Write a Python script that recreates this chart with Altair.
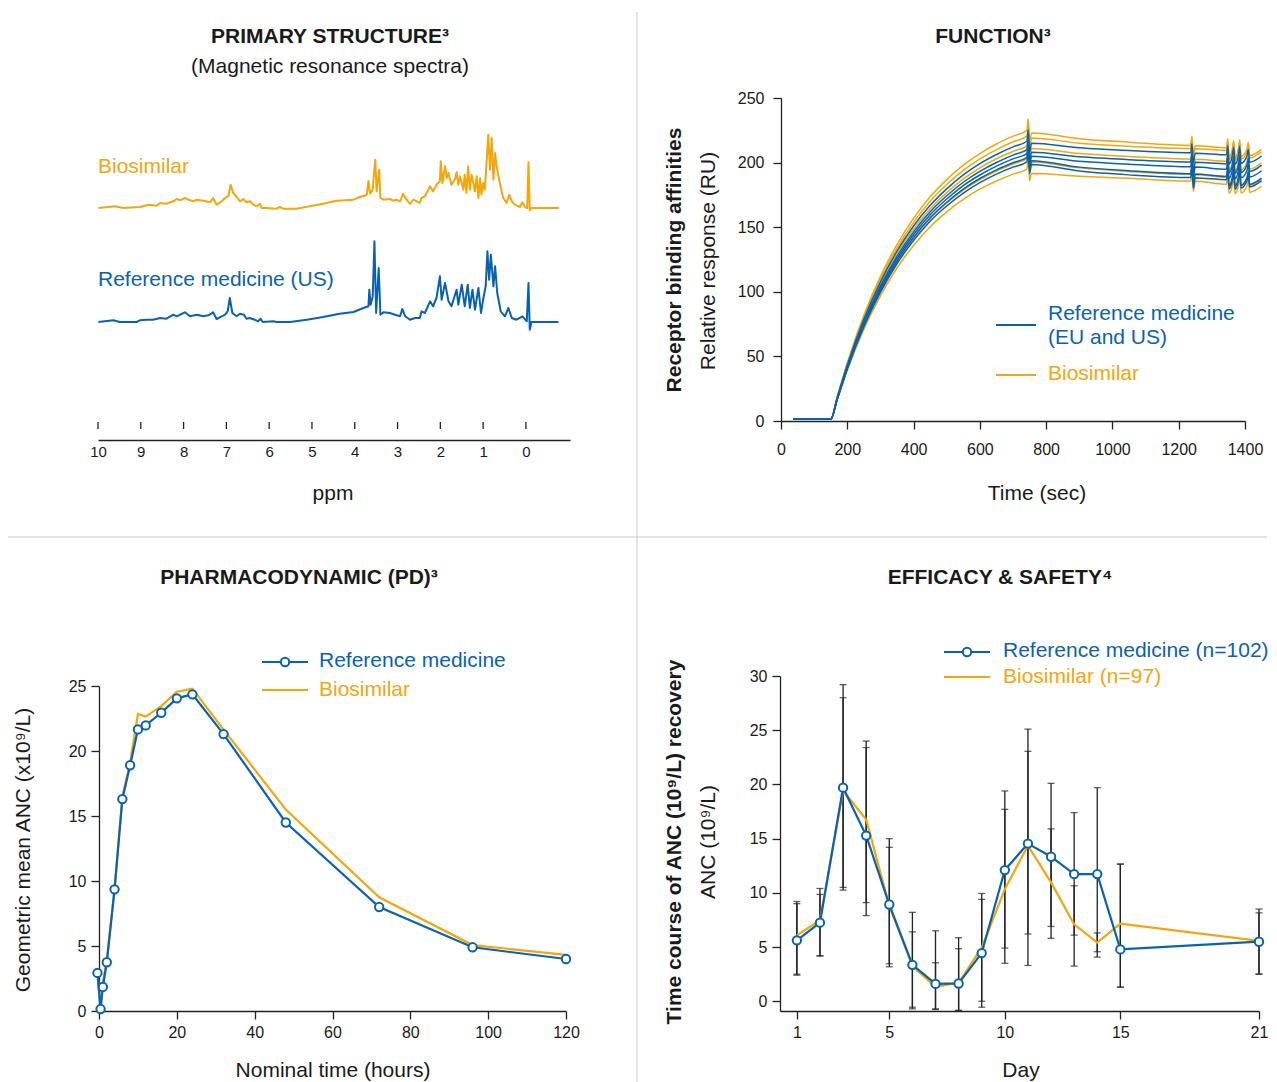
import altair as alt
import pandas as pd

# ---------------- DATA ----------------
# Primary structure: NMR spectra (ppm, relative intensity)
nmr_bios_ppm = [9.99, 9.60, 9.41, 9.02, 8.82, 8.63, 8.55, 8.40, 8.24, 8.16, 8.08, 7.97, 7.89, 7.77, 7.69, 7.54,
                7.38, 7.31, 7.23, 7.11, 7.03, 6.95, 6.90, 6.84, 6.76, 6.68, 6.60, 6.53, 6.45, 6.37, 6.29, 6.21,
                6.18, 6.06, 5.83, 5.75, 5.67, 5.36, 5.05, 4.74, 4.42, 4.03, 3.88, 3.72, 3.68, 3.64, 3.58, 3.55,
                3.52, 3.49, 3.43, 3.40, 3.33, 3.18, 3.10, 3.02, 2.94, 2.87, 2.79, 2.71, 2.63, 2.55, 2.48, 2.44,
                2.36, 2.24, 2.17, 2.09, 2.01, 1.99, 1.95, 1.89, 1.85, 1.81, 1.74, 1.66, 1.62, 1.58, 1.54, 1.46,
                1.43, 1.39, 1.35, 1.31, 1.27, 1.19, 1.15, 1.11, 1.07, 1.04, 1.00, 0.96, 0.92, 0.88, 0.84, 0.80,
                0.76, 0.72, 0.69, 0.61, 0.53, 0.45, 0.39, 0.33, 0.26, 0.14, 0.08, 0.02, -0.03, -0.06, -0.09,
                -0.13, -0.77]
nmr_bios_int = [0, 1.7, 0, 1.0, 3.3, 2.3, 5, 4.3, 6.7, 9, 7.7, 10, 8.3, 6.7, 8.3, 7.3,
                5.7, 10, 3.3, 6.7, 10, 12.3, 23.3, 15, 11, 6.7, 9, 5.7, 6.7, 3.3, 1.7, 4.3,
                0, 0, -0.7, 1, -0.7, -0.7, 1.7, 4.3, 7.3, 8.3, 11, 13, 27, 14.3, 18.3, 35,
                48.3, 16.7, 38.3, 10, 8.3, 9, 7.3, 8.3, 6.7, 14.3, 8.3, 4, 8.3, 6.7, 5, 10,
                11.7, 21.7, 16.7, 23.3, 26.7, 46.7, 25, 41.7, 30, 35, 23.3, 28.3, 35.7, 23.3, 31.7, 18.3,
                33.3, 15, 41.7, 18.3, 33.3, 16.7, 31.7, 10, 30, 13.3, 25, 18.3, 45, 73.3, 38.3, 70,
                28.3, 55, 43.3, 25, 10, 5, 13.3, 6.7, 3.3, 1, 5.7, 1, 0, 45.7, -2.3,
                0, 0]
nmr_ref_ppm = [9.99, 9.64, 9.49, 9.10, 9.02, 8.86, 8.71, 8.55, 8.40, 8.24, 8.16, 8.08, 7.97, 7.85, 7.69, 7.54,
               7.42, 7.31, 7.23, 7.11, 7.03, 6.97, 6.92, 6.86, 6.76, 6.68, 6.59, 6.53, 6.45, 6.34, 6.26, 6.20,
               6.15, 5.90, 5.83, 5.51, 5.12, 4.74, 4.35, 4.03, 3.80, 3.68, 3.66, 3.63, 3.58, 3.54, 3.50, 3.44,
               3.40, 3.33, 3.18, 3.06, 2.94, 2.89, 2.82, 2.71, 2.59, 2.48, 2.44, 2.36, 2.24, 2.17, 2.09, 2.01,
               1.97, 1.89, 1.81, 1.74, 1.62, 1.58, 1.50, 1.43, 1.36, 1.31, 1.25, 1.19, 1.11, 1.05, 1.00, 0.94,
               0.90, 0.86, 0.82, 0.76, 0.72, 0.67, 0.59, 0.49, 0.41, 0.33, 0.22, 0.08, -0.02, -0.06, -0.09,
               -0.13, -0.76]
nmr_ref_int = [0, 1.7, 0, 0, 1.7, 2.3, 2.3, 4, 3.3, 7.3, 5.7, 7.3, 9.7, 5.7, 7.3, 5.7,
               6.7, 9.7, 3, 5.7, 7.3, 10.7, 24, 9, 5.7, 8.3, 7.3, 3.3, 4, 2.3, 0.7, 3.3,
               0, 0.7, 0, 0, 2.3, 5, 8.3, 10, 14, 15.7, 32.3, 17.3, 25.7, 80.7, 9, 54,
               7.3, 9.7, 9, 7.3, 5.7, 13, 5.7, 2.3, 4, 4, 10.7, 9, 20.7, 15.7, 24, 45.7,
               22.3, 39, 20.7, 15.7, 32.3, 17.3, 37.3, 15.7, 37.3, 14, 32.3, 12.3, 34, 9, 22.3, 35.7,
               70.7, 42.3, 67.3, 35.7, 55.7, 29, 10.7, 5.7, 14, 4, 2.3, 5.7, 0.7, 39, -7.7,
               0, 0]
ppm_ticks = [10, 9, 8, 7, 6, 5, 4, 3, 2, 1, 0]

# Function: receptor binding sensorgrams (time in s, response in RU)
spr_time = [37, 150, 170, 200, 250, 300, 350, 400, 450, 500, 550, 600, 650, 700, 742, 746, 750, 756,
            900, 1050, 1236, 1240, 1244, 1250, 1344, 1348, 1352, 1362, 1366, 1370, 1380, 1384, 1388,
            1406, 1410, 1414, 1450]
spr_bios = {
    "A": [1.3, 1.3, 19.1, 45, 81.9, 111.8, 136.6, 156.8, 173.5, 186.8, 198, 207, 214.4, 220.5, 225, 234, 216, 223,
          218.5, 215.8, 213.3, 220.3, 205.3, 213, 211.4, 218.4, 204.4, 211, 217, 204, 210.7, 217.7, 204.7,
          210.5, 215.5, 205.5, 210.3],
    "B": [1.3, 1.3, 18.7, 44.1, 80.3, 109.6, 133.8, 153.7, 170, 183, 194, 202.9, 210.1, 216.1, 220.5, 229.5, 211.5, 219,
          215, 212.6, 211, 218, 203, 210.7, 209.4, 216.4, 202.4, 209, 215, 202, 208.8, 215.8, 202.8,
          208.6, 213.6, 203.6, 208.4],
    "D": [1.3, 1.3, 18.1, 42.6, 77.5, 105.9, 129.3, 148.5, 164.2, 176.8, 187.4, 196, 203, 208.7, 213, 222, 204, 211,
          207, 204.8, 202.8, 209.8, 194.8, 202.5, 201, 208, 194, 200.6, 206.6, 193.6, 200.3, 207.3, 194.3,
          200, 205, 195, 199.9],
    "H": [1.3, 1.3, 17.2, 40.6, 73.9, 100.9, 123.2, 141.5, 156.5, 168.5, 178.6, 186.8, 193.5, 198.9, 203, 212, 194, 200.5,
          196, 193.2, 190.9, 197.9, 182.9, 190.6, 188.6, 195.6, 181.6, 188.3, 194.3, 181.3, 188, 195, 182,
          187.6, 192.6, 182.6, 187.4],
    "J": [1.3, 1.3, 16.5, 39, 71, 96.9, 118.4, 135.9, 150.3, 161.9, 171.6, 179.4, 185.8, 191.1, 195, 204, 186, 191.5,
          189.5, 187.8, 185.8, 192.8, 177.8, 185.5, 183.2, 190.2, 176.2, 182.8, 188.8, 175.8, 182.5, 189.5, 176.5,
          182.1, 187.1, 177.1, 181.9],
}
spr_ref = {
    "C": [1.3, 1.3, 18.4, 43.3, 78.8, 107.6, 131.4, 150.9, 166.9, 179.7, 190.5, 199.2, 206.3, 212.2, 216.5, 225.5, 207.5, 215,
          211.5, 209.3, 207.6, 214.6, 199.6, 207.3, 206, 213, 199, 205.7, 211.7, 198.7, 205.4, 212.4, 199.4,
          205.2, 210.2, 200.2, 205.1],
    "E": [1.3, 1.3, 17.8, 42, 76.4, 104.4, 127.5, 146.4, 161.9, 174.3, 184.8, 193.2, 200.1, 205.8, 210, 219, 201, 208,
          204.5, 202.3, 200.5, 207.5, 192.5, 200.2, 199, 206, 192, 198.7, 204.7, 191.7, 198.4, 205.4, 192.4,
          198.2, 203.2, 193.2, 198.1],
    "F": [1.3, 1.3, 17.6, 41.4, 75.3, 102.9, 125.6, 144.3, 159.6, 171.8, 182.2, 190.4, 197.3, 202.9, 207, 216, 198, 205,
          201, 198.8, 196.8, 203.8, 188.8, 196.5, 194.8, 201.8, 187.8, 194.5, 200.5, 187.5, 194.2, 201.2, 188.2,
          193.9, 198.9, 188.9, 193.7],
    "G": [1.3, 1.3, 17.3, 40.8, 74.3, 101.4, 123.8, 142.2, 157.3, 169.3, 179.5, 187.7, 194.4, 199.9, 204, 213, 195, 201.5,
          196.5, 193.7, 191.4, 198.4, 183.4, 191.1, 189.3, 196.3, 182.3, 189, 195, 182, 188.6, 195.6, 182.6,
          188.2, 193.2, 183.2, 188],
    "I": [1.3, 1.3, 17, 40.1, 73, 99.6, 121.7, 139.7, 154.6, 166.4, 176.4, 184.5, 191.1, 196.5, 200.5, 209.5, 191.5, 198.5,
          193.5, 190.5, 188.4, 195.4, 180.4, 188.1, 186.8, 193.8, 179.8, 186.5, 192.5, 179.5, 186.3, 193.3, 180.3,
          186.1, 191.1, 181.1, 186],
}
spr_xticks = [0, 200, 400, 600, 800, 1000, 1200, 1400]
spr_yticks = [0, 50, 100, 150, 200, 250]

# Pharmacodynamic: geometric mean ANC (x10^9/L) vs nominal time (h)
pd_time = [-0.4, 0.4, 1, 2, 4, 6, 8, 10, 12, 16, 20, 24, 32, 48, 72, 96, 120]
pd_ref = [2.93, 0.15, 1.85, 3.75, 9.36, 16.3, 18.9, 21.66, 21.97, 22.94, 24.05, 24.36, 21.3, 14.5, 8.0, 4.9, 4.0]
pd_bios = [2.9, 0.3, 2.2, 3.9, 9.4, 16.5, 19.1, 22.85, 22.65, 23.45, 24.56, 24.8, 21.65, 15.5, 8.75, 5.07, 4.32]
pd_xticks = [0, 20, 40, 60, 80, 100, 120]
pd_yticks = [0, 5, 10, 15, 20, 25]

# Efficacy & safety: ANC recovery by day
eff_day = [1, 2, 3, 4, 5, 6, 7, 8, 9, 10, 11, 12, 13, 14, 15, 21]
eff_ref = [5.62, 7.25, 19.7, 15.28, 8.92, 3.36, 1.6, 1.64, 4.44, 12.1, 14.54, 13.33, 11.73, 11.73, 4.78, 5.49]
eff_bios = [6.08, 7.47, 19.44, 16.76, 8.8, 3.24, 1.33, 1.7, 4.94, 10.34, 14.35, 10.96, 7.1, 5.4, 7.16, 5.56]
err_ref_lo = [2.4, 4.17, 10.25, 7.9, 3.18, -0.7, -0.77, -0.85, -0.55, 4.9, 3.3, 5.8, 6.1, 4.07, 1.3, 2.5]
err_ref_hi = [9.0, 10.4, 29.2, 23.4, 15.0, 8.2, 6.5, 5.86, 9.4, 19.4, 25.1, 20.1, 17.4, 19.7, 12.65, 8.15]
err_bios_lo = [2.5, 4.2, 10.5, 9.1, 3.46, -0.55, -0.7, -0.85, 0.0, 3.5, 6.2, 6.9, 3.24, 4.57, 1.3, 2.5]
err_bios_hi = [9.2, 9.85, 28.0, 24.0, 14.2, 6.4, 3.55, 4.85, 9.94, 17.7, 23.05, 15.9, 10.65, 6.3, 12.65, 8.5]
eff_xticks = [1, 5, 10, 15, 21]
eff_yticks = [0, 5, 10, 15, 20, 25, 30]

# ---------------- STYLE ----------------
FONT = "Liberation Sans"
ORANGE = "#F2A60F"
BLUE = "#0A62AC"
INK = "#1a1a1a"
AXIS = "#222222"
DIV = "#c8c8c8"

W, H = 1261, 1074


def X(p):
    return p - 8


def Y(p):
    return p - 8


one = pd.DataFrame({"k": [0]})


def txt(s, px, py, size=21, weight="normal", color=INK, align="center", angle=0):
    return alt.Chart(one).mark_text(text=s, font=FONT, fontSize=size, fontWeight=weight, color=color,
                                    align=align, baseline="middle", angle=angle).encode(
        x=alt.value(X(px)), y=alt.value(Y(py)))


def hline(x1, x2, py, color, width=2.0):
    return alt.Chart(one).mark_rule(color=color, strokeWidth=width).encode(
        x=alt.value(X(x1)), x2=alt.value(X(x2)), y=alt.value(Y(py)))


def marker(px, py):
    return alt.Chart(one).mark_circle(size=70, color="white", opacity=1, stroke=BLUE, strokeWidth=2).encode(
        x=alt.value(X(px)), y=alt.value(Y(py)))


def mk_axis(orient, offset, values, pad, size=16, ticks=True):
    return alt.Axis(orient=orient, offset=offset, values=values, format="d", labelPadding=pad,
                    labelFont=FONT, labelFontSize=size, labelColor=INK, labelFlush=False, labelOverlap=False,
                    domainColor=AXIS, domainWidth=1.3, tickColor=AXIS, tickWidth=1.3,
                    tickSize=8 if ticks else 0, ticks=ticks, grid=False, title=None)


# ---------------- DIVIDERS ----------------
vdiv = alt.Chart(one).mark_rule(color=DIV, strokeWidth=1).encode(
    x=alt.value(X(637)), y=alt.value(Y(12)), y2=alt.value(Y(1082)))
hdiv = alt.Chart(one).mark_rule(color=DIV, strokeWidth=1).encode(
    x=alt.value(X(8)), x2=alt.value(X(1267)), y=alt.value(Y(537)))

# ---------------- PANEL 1: NMR ----------------
x_ppm = alt.X("ppm:Q", scale=alt.Scale(domain=[10, -1.03], range=[X(98), X(570)]),
              axis=mk_axis("bottom", Y(440) - H, ppm_ticks, 4, size=15, ticks=False))
bios_df = pd.DataFrame({"ppm": nmr_bios_ppm, "v": nmr_bios_int})
ref_df = pd.DataFrame({"ppm": nmr_ref_ppm, "v": nmr_ref_int})
nmr_b = alt.Chart(bios_df).mark_line(color=ORANGE, strokeWidth=2, strokeJoin="round").encode(
    x=x_ppm, y=alt.Y("v:Q", scale=alt.Scale(domain=[0, 100], range=[Y(208), Y(108)]), axis=None))
nmr_r = alt.Chart(ref_df).mark_line(color=BLUE, strokeWidth=2, strokeJoin="round").encode(
    x=x_ppm, y=alt.Y("v:Q", scale=alt.Scale(domain=[0, 100], range=[Y(322), Y(222)]), axis=None))
nmr_t = alt.Chart(pd.DataFrame({"ppm": ppm_ticks})).mark_rule(color=AXIS, strokeWidth=1.3).encode(
    x=x_ppm, y=alt.value(Y(422)), y2=alt.value(Y(429)))
panel1 = alt.layer(nmr_b, nmr_r, nmr_t).resolve_scale(y="independent")

# ---------------- PANEL 2: SPR ----------------
rows = []
for grp, curves in (("bios", spr_bios), ("ref", spr_ref)):
    for name, vals in curves.items():
        for t, v in zip(spr_time, vals):
            rows.append({"t": t, "v": v, "c": name, "g": grp})
spr_df = pd.DataFrame(rows)
x_t = alt.X("t:Q", scale=alt.Scale(domain=[0, 1400], range=[X(781), X(1245)]),
            axis=mk_axis("bottom", Y(421) - H, spr_xticks, 12))
y_ru = alt.Y("v:Q", scale=alt.Scale(domain=[0, 250], range=[Y(421), Y(98)]),
             axis=mk_axis("left", -X(781), spr_yticks, 9))
spr_b = alt.Chart(spr_df[spr_df.g == "bios"]).mark_line(color=ORANGE, strokeWidth=1.5, interpolate="monotone").encode(
    x=x_t, y=y_ru, detail="c:N")
spr_r = alt.Chart(spr_df[spr_df.g == "ref"]).mark_line(color=BLUE, strokeWidth=1.5, interpolate="monotone").encode(
    x=x_t, y=y_ru, detail="c:N")
panel2 = alt.layer(spr_b, spr_r)

# ---------------- PANEL 3: PD ----------------
pd_df = pd.DataFrame({"t": pd_time, "ref": pd_ref, "bios": pd_bios})
x_h = alt.X("t:Q", scale=alt.Scale(domain=[0, 120], range=[X(99), X(566)]),
            axis=mk_axis("bottom", Y(1011) - H, pd_xticks, 5))
sc_anc = alt.Scale(domain=[0, 25], range=[Y(1011), Y(686)])
ax_anc = mk_axis("left", -X(99), pd_yticks, 5)
pd_b = alt.Chart(pd_df).mark_line(color=ORANGE, strokeWidth=2.2).encode(
    x=x_h, y=alt.Y("bios:Q", scale=sc_anc, axis=ax_anc))
pd_r = alt.Chart(pd_df).mark_line(color=BLUE, strokeWidth=2.2).encode(
    x=x_h, y=alt.Y("ref:Q", scale=sc_anc, axis=ax_anc))
pd_p = alt.Chart(pd_df).mark_circle(size=70, color="white", opacity=1, stroke=BLUE, strokeWidth=2).encode(
    x=x_h, y=alt.Y("ref:Q", scale=sc_anc, axis=ax_anc))
panel3 = alt.layer(pd_b, pd_r, pd_p)

# ---------------- PANEL 4: Efficacy ----------------
eff_df = pd.DataFrame({"d": eff_day, "ref": eff_ref, "bios": eff_bios})
err_df = pd.DataFrame({"d": eff_day + eff_day, "lo": err_ref_lo + err_bios_lo, "hi": err_ref_hi + err_bios_hi})
cap_df = pd.DataFrame({"d": eff_day * 4, "cap": err_ref_lo + err_ref_hi + err_bios_lo + err_bios_hi})
x_d = alt.X("d:Q", scale=alt.Scale(domain=[0.27, 21], range=[X(780), X(1259)]),
            axis=mk_axis("bottom", Y(1011) - H, eff_xticks, 5))
sc_e = alt.Scale(domain=[-0.9, 30], range=[Y(1011), Y(676)])
ax_e = mk_axis("left", -X(780), eff_yticks, 5)
e_bar = alt.Chart(err_df).mark_rule(color=AXIS, strokeWidth=1.3).encode(
    x=x_d, y=alt.Y("lo:Q", scale=sc_e, axis=ax_e), y2="hi:Q")
e_cap = alt.Chart(cap_df).mark_tick(color=AXIS, orient="horizontal", size=7, thickness=1.3).encode(
    x=x_d, y=alt.Y("cap:Q", scale=sc_e, axis=ax_e))
e_b = alt.Chart(eff_df).mark_line(color=ORANGE, strokeWidth=2.2).encode(
    x=x_d, y=alt.Y("bios:Q", scale=sc_e, axis=ax_e))
e_r = alt.Chart(eff_df).mark_line(color=BLUE, strokeWidth=2.2).encode(
    x=x_d, y=alt.Y("ref:Q", scale=sc_e, axis=ax_e))
e_p = alt.Chart(eff_df).mark_circle(size=70, color="white", opacity=1, stroke=BLUE, strokeWidth=2).encode(
    x=x_d, y=alt.Y("ref:Q", scale=sc_e, axis=ax_e))
panel4 = alt.layer(e_bar, e_cap, e_b, e_r, e_p)

# ---------------- TEXT & LEGENDS ----------------
texts = [
    txt("PRIMARY STRUCTURE³", 330, 37, weight="bold"),
    txt("(Magnetic resonance spectra)", 330, 67),
    txt("Biosimilar", 98, 167, color=ORANGE, align="left"),
    txt("Reference medicine (US)", 98, 280, color=BLUE, align="left"),
    txt("ppm", 333, 494),
    txt("FUNCTION³", 993, 37, weight="bold"),
    txt("Receptor binding affinities", 675, 260, weight="bold", angle=270),
    txt("Relative response (RU)", 709, 261, angle=270),
    txt("Time (sec)", 1037, 494),
    hline(996, 1036, 325, BLUE),
    txt("Reference medicine", 1048, 314, color=BLUE, align="left"),
    txt("(EU and US)", 1048, 338, color=BLUE, align="left"),
    hline(996, 1036, 375, ORANGE),
    txt("Biosimilar", 1048, 374, color=ORANGE, align="left"),
    txt("PHARMACODYNAMIC (PD)³", 299, 578, weight="bold"),
    txt("Geometric mean ANC (x10⁹/L)", 24, 850, angle=270),
    txt("Nominal time (hours)", 333, 1071),
    hline(262, 308, 662, BLUE),
    marker(285, 662),
    txt("Reference medicine", 319, 661, color=BLUE, align="left"),
    hline(262, 308, 690, ORANGE),
    txt("Biosimilar", 319, 690, color=ORANGE, align="left"),
    txt("EFFICACY & SAFETY⁴", 1000, 578, weight="bold"),
    txt("Time course of ANC (10⁹/L) recovery", 675, 842, weight="bold", angle=270),
    txt("ANC (10⁹/L)", 709, 842, angle=270),
    txt("Day", 1021, 1071),
    hline(944, 990, 652, BLUE),
    marker(967, 652),
    txt("Reference medicine (n=102)", 1003, 651, color=BLUE, align="left"),
    hline(944, 990, 677, ORANGE),
    txt("Biosimilar (n=97)", 1003, 677, color=ORANGE, align="left"),
]

chart = alt.layer(vdiv, hdiv, panel1, panel2, panel3, panel4, *texts).resolve_scale(
    x="independent", y="independent"
).properties(
    width=W, height=H, padding=0, autosize=alt.AutoSizeParams(type="none")
).configure_view(strokeWidth=0).configure_axis(grid=False)

chart.save("out.html", embed_options={"renderer": "svg", "actions": False})
